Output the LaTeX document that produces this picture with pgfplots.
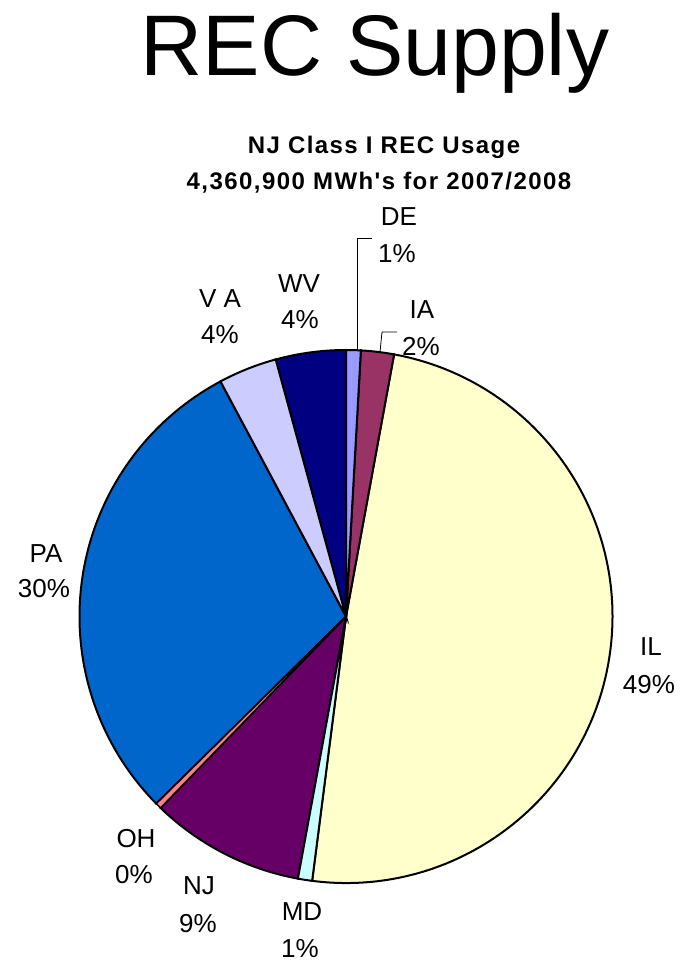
\documentclass[border=0pt]{standalone}
\usepackage{fontspec}
\setmainfont{Liberation Sans}
\newfontfamily\subfont[LetterSpace=6]{Liberation Sans}
\usepackage{pgfplots}
\pgfplotsset{compat=1.18}
\definecolor{cDE}{HTML}{9999FF}
\definecolor{cIA}{HTML}{993366}
\definecolor{cIL}{HTML}{FFFFCC}
\definecolor{cMD}{HTML}{CCFFFF}
\definecolor{cNJ}{HTML}{660066}
\definecolor{cOH}{HTML}{FF8080}
\definecolor{cPA}{HTML}{0066CC}
\definecolor{cVA}{HTML}{CCCCFF}
\definecolor{cWV}{HTML}{000080}
\begin{document}
\begin{tikzpicture}
\path[use as bounding box] (0pt,0pt) rectangle (684pt,-961pt);
% Shares (%): DE 0.89, IA 2.0, IL 49.14, MD 0.86, NJ 9.36, OH 0.36, PA 29.58, VA 3.56, WV 4.25
% Slice boundaries (math angle, deg): 90, 86.8, 79.6, -97.3, -100.4, -134.1, -135.4, -241.9, -254.7, -270
\begin{axis}[at={(346pt,-616.5pt)}, anchor=center, scale only axis,
  width=533pt, height=533pt, xmin=-1, xmax=1, ymin=-1, ymax=1,
  hide axis, clip=false]
\addplot[draw=black, line width=2pt, fill=cIL] coordinates {(0,0) (-0.1271,-0.9919)} arc[start angle=-97.3, end angle=79.6, radius=266.5pt] -- cycle;
\addplot[draw=black, line width=2pt, fill=cPA] coordinates {(0,0) (-0.4710,0.8821)} arc[start angle=118.1, end angle=224.6, radius=266.5pt] -- cycle;
\addplot[draw=black, line width=2pt, fill=cNJ] coordinates {(0,0) (-0.6959,-0.7181)} arc[start angle=-134.1, end angle=-100.4, radius=266.5pt] -- cycle;
\addplot[draw=black, line width=2pt, fill=cWV] coordinates {(0,0) (0,1)} arc[start angle=90, end angle=105.3, radius=266.5pt] -- cycle;
\addplot[draw=black, line width=2pt, fill=cVA] coordinates {(0,0) (-0.2639,0.9646)} arc[start angle=105.3, end angle=118.1, radius=266.5pt] -- cycle;
\addplot[draw=black, line width=2pt, fill=cIA] coordinates {(0,0) (0.1805,0.9836)} arc[start angle=79.6, end angle=86.8, radius=266.5pt] -- cycle;
\addplot[draw=black, line width=2pt, fill=cDE] coordinates {(0,0) (0.0558,0.9984)} arc[start angle=86.8, end angle=90, radius=266.5pt] -- cycle;
\addplot[draw=black, line width=2pt, fill=cMD] coordinates {(0,0) (-0.1805,-0.9836)} arc[start angle=-100.4, end angle=-97.3, radius=266.5pt] -- cycle;
\addplot[draw=black, line width=1.5pt, fill=cOH] coordinates {(0,0) (-0.7120,-0.7022)} arc[start angle=-135.4, end angle=-134.1, radius=266.5pt] -- cycle;
\end{axis}
\begin{scope}[x=1pt,y=1pt]
\node[anchor=base, inner sep=0, font=\fontsize{86}{90}\selectfont] at (375,-75) {REC Supply};
\node[anchor=base, inner sep=0, font=\subfont\bfseries\fontsize{24}{28}\selectfont] at (384,-153) {NJ Class I REC Usage};
\node[anchor=base, inner sep=0, font=\subfont\bfseries\fontsize{24}{28}\selectfont] at (379,-189) {4,360,900 MWh's for 2007/2008};
\tikzset{lab/.style={anchor=base, inner sep=0, font=\fontsize{26}{30}\selectfont}}
\node[lab] at (399,-225) {DE};  \node[lab] at (397,-262) {1\%};
\node[lab] at (422,-318) {IA};  \node[lab] at (421,-355) {2\%};
\node[lab] at (299,-292) {WV};  \node[lab] at (300,-328) {4\%};
\node[lab] at (220,-307) {V A}; \node[lab] at (220,-343) {4\%};
\node[lab] at (46,-562) {PA};   \node[lab] at (44,-597) {30\%};
\node[lab] at (651,-655) {IL};  \node[lab] at (649,-693) {49\%};
\node[lab] at (136,-847) {OH};  \node[lab] at (134,-883) {0\%};
\node[lab] at (199,-894) {NJ};  \node[lab] at (198,-932) {9\%};
\node[lab] at (302,-920) {MD};  \node[lab] at (300,-957) {1\%};
\draw[line width=0.8pt] (357,-350) -- (357,-238) -- (372,-238);
\draw[line width=0.8pt] (380,-352) -- (382,-332) -- (397,-332);
\end{scope}
\end{tikzpicture}
\end{document}
